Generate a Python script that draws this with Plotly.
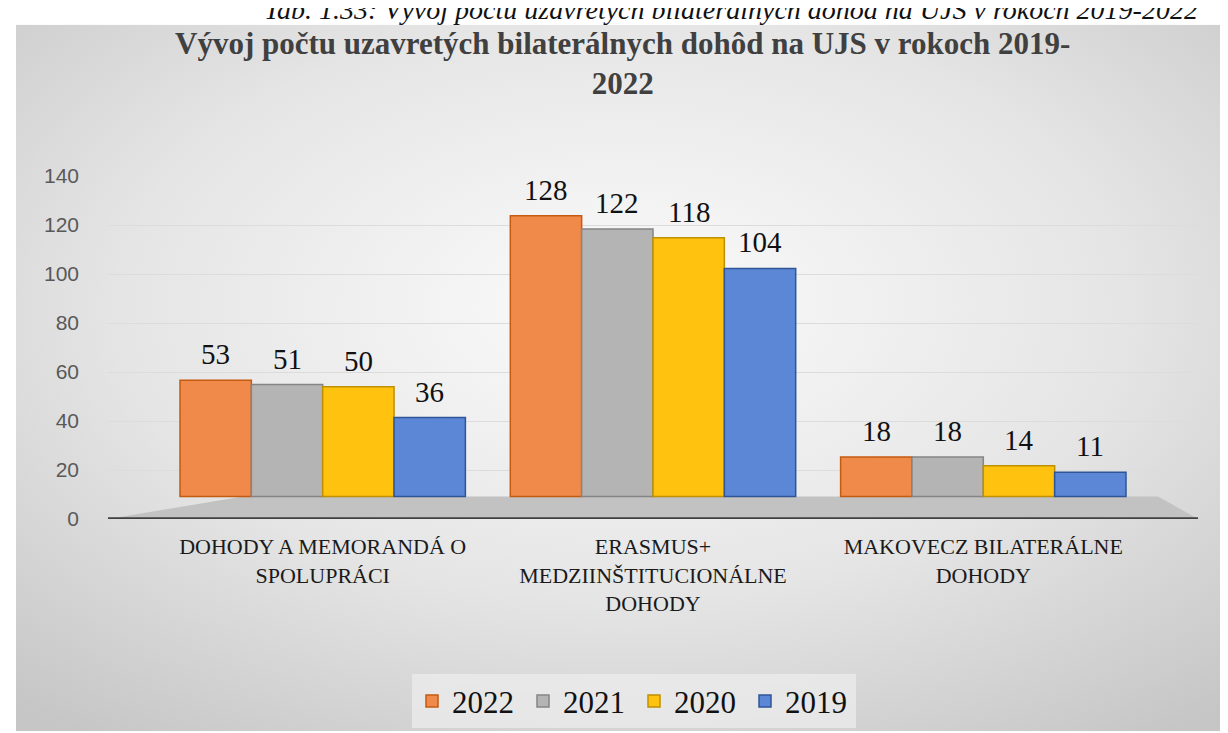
import base64
import plotly.graph_objects as go

categories = ["DOHODY A MEMORANDÁ O<br>SPOLUPRÁCI",
              "ERASMUS+<br>MEDZIINŠTITUCIONÁLNE<br>DOHODY",
              "MAKOVECZ BILATERÁLNE<br>DOHODY"]
years = ["2022", "2021", "2020", "2019"]
v2022 = [53, 128, 18]
v2021 = [51, 122, 18]
v2020 = [50, 118, 14]
v2019 = [36, 104, 11]
series = [v2022, v2021, v2020, v2019]

fills = ["#F08A4B", "#B4B4B4", "#FFC20E", "#5B87D6"]
edges = ["#C55A11", "#858585", "#BF9000", "#2F5597"]

SERIF = "Liberation Serif, Times New Roman, serif"
SANS = "Liberation Sans, Arial, sans-serif"

W, H = 1228, 733
ML, MR, MT, MB = 100, 38, 168, 216
PW = W - ML - MR
PH = H - MT - MB

# front plane of the pseudo-3D bars: 0 sits slightly above the back-wall axis
FRONT_ZERO_PX = 494
FRONT_PX_PER_UNIT = 2.23
y2_lo = -(H - MB - FRONT_ZERO_PX) / FRONT_PX_PER_UNIT
y2_hi = (FRONT_ZERO_PX - MT) / FRONT_PX_PER_UNIT

XR = [-0.65, 2.65]
BARGAP = 0.136
bar_px = (1 - BARGAP) / len(years) * PW / (XR[1] - XR[0])

def px_x(px):
    return (px - ML) / PW

def px_y(py):
    return 1 + (MT - py) / PH

fig = go.Figure()
annotations = []
for i, (name, vals, fc, ec) in enumerate(zip(years, series, fills, edges)):
    fig.add_trace(go.Bar(
        x=categories, y=vals, name=name, yaxis="y2",
        marker=dict(color=fc, line=dict(color=ec, width=1.5)),
        cliponaxis=False,
    ))
    for c, v in zip(categories, vals):
        annotations.append(dict(
            x=c, y=v, xref="x", yref="y2", text=str(v), showarrow=False,
            xanchor="center", yanchor="middle",
            xshift=(i - (len(years) - 1) / 2) * bar_px, yshift=26,
            font=dict(family=SERIF, size=29, color="#111111"),
        ))

svg = ('<svg xmlns="http://www.w3.org/2000/svg" width="1212" height="719">'
       '<defs><radialGradient id="g" cx="50%" cy="40%" r="75%">'
       '<stop offset="0%" stop-color="#fbfbfb"/>'
       '<stop offset="55%" stop-color="#e5e5e5"/>'
       '<stop offset="100%" stop-color="#c6c6c6"/>'
       '</radialGradient></defs>'
       '<rect width="1212" height="719" fill="url(#g)"/></svg>')
src = "data:image/svg+xml;base64," + base64.b64encode(svg.encode()).decode()

annotations += [
    dict(text="<i>Tab. 1.33: Vývoj počtu uzavretých bilaterálnych dohôd na UJS v rokoch 2019-2022</i>",
         xref="paper", yref="paper", x=px_x(1192), y=px_y(16),
         xanchor="right", yanchor="bottom", showarrow=False,
         font=dict(family=SERIF, size=28, color="#111111")),
    dict(text="<b>Vývoj počtu uzavretých bilaterálnych dohôd na UJS v rokoch 2019-<br>2022</b>",
         xref="paper", yref="paper", x=px_x(614), y=px_y(54),
         xanchor="center", yanchor="middle", showarrow=False,
         font=dict(family=SERIF, size=31, color="#404040")),
]

fig.update_layout(
    width=W, height=H,
    margin=dict(l=ML, r=MR, t=MT, b=MB, pad=0),
    paper_bgcolor="white",
    plot_bgcolor="rgba(0,0,0,0)",
    barmode="group", bargap=BARGAP, bargroupgap=0,
    xaxis=dict(
        range=XR, showgrid=False, zeroline=False,
        showline=False, ticks="",
        tickfont=dict(family=SERIF, size=22, color="#1a1a1a"),
        ticklabelstandoff=12,
    ),
    yaxis=dict(
        range=[0, 140], dtick=20, showgrid=True, gridcolor="#dcdcdc", gridwidth=1,
        zeroline=False, showline=False, ticks="",
        tickfont=dict(family=SANS, size=21, color="#595959"),
        ticklabelstandoff=28,
    ),
    yaxis2=dict(
        range=[y2_lo, y2_hi], overlaying="y", side="right", visible=False,
        showgrid=False, zeroline=False,
    ),
    legend=dict(
        orientation="h", x=px_x(626), xanchor="center",
        y=px_y(675), yanchor="top",
        bgcolor="rgba(238,238,238,0.7)",
        font=dict(family=SERIF, size=31, color="#111111"),
        itemwidth=30, traceorder="normal",
        entrywidth=66,
    ),
    images=[dict(
        source=src, xref="paper", yref="paper",
        x=px_x(8), y=px_y(14), sizex=1212 / PW, sizey=719 / PH,
        xanchor="left", yanchor="top", sizing="stretch", layer="below",
    )],
    shapes=[
        dict(type="path", xref="paper", yref="paper",
             path=(f"M {px_x(100)},{px_y(517)} L {px_x(1190)},{px_y(517)} "
                   f"L {px_x(1150)},{px_y(FRONT_ZERO_PX)} L {px_x(235)},{px_y(FRONT_ZERO_PX)} Z"),
             fillcolor="#c2c2c2", line=dict(width=0), layer="below"),
        dict(type="line", xref="paper", yref="y", x0=px_x(100), x1=px_x(1190), y0=0, y1=0,
             line=dict(color="#404040", width=3.5), layer="above"),
    ],
    annotations=annotations,
)

fig.write_html("out.html")
